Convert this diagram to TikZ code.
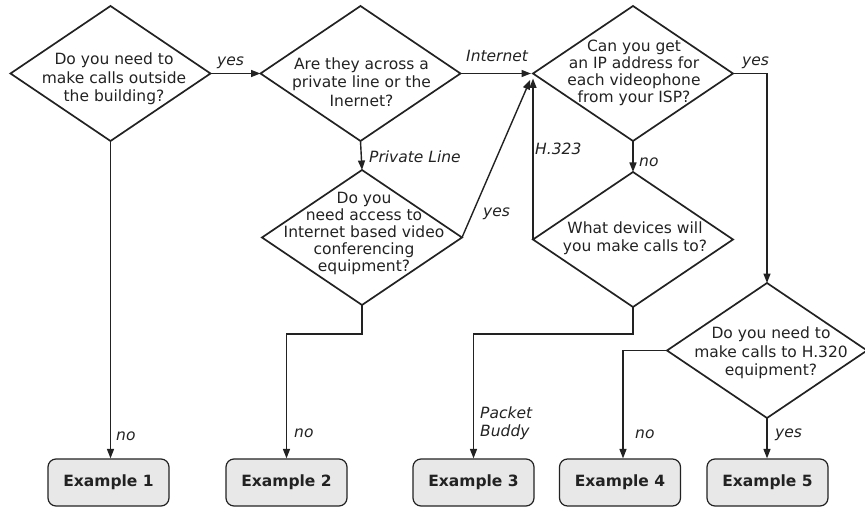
\documentclass[tikz,border=0pt]{standalone}
\usepackage{fontspec}
\setmainfont{DejaVu Sans}
\usetikzlibrary{shapes.geometric,arrows.meta}
\definecolor{ink}{HTML}{222222}
\definecolor{boxfill}{HTML}{E8E8E8}
\tikzset{
  dia/.style={draw=ink, line width=1.7pt, shape=diamond, minimum width=200pt, minimum height=135pt, inner sep=0pt, outer sep=0pt},
  dtext/.style={align=center, font=\fontsize{15.5}{18.5}\selectfont, inner sep=0pt, text=ink},
  dtextb/.style={dtext, font=\fontsize{15.5}{17}\selectfont},
  exbox/.style={draw=ink, fill=boxfill, rounded corners=8pt, line width=1.2pt, minimum width=121pt, minimum height=47pt, font=\fontsize{15.5}{18}\selectfont\bfseries, inner sep=0pt, text=ink},
  arr/.style={draw=ink, line width=1.4pt, -{Triangle[length=9.5pt,width=7pt]}},
  lbl/.style={font=\fontsize{15.5}{18}\selectfont\itshape, inner sep=0pt, anchor=base west, text=ink},
}
\begin{document}
\begin{tikzpicture}[x=1pt,y=-1pt]
\useasboundingbox (0,0) rectangle (865,508);
% diamonds
\node[dia] (D1) at (110.5,73.5) {};
\node[dia] (D2) at (360.5,73.5) {};
\node[dia] (D3) at (633,73.5) {};
\node[dia] (D4) at (362,237.5) {};
\node[dia] (D5) at (633,239.5) {};
\node[dia] (D6) at (767,350.5) {};
% diamond texts
\node[dtext] (T1) at (114,79) {Do you need to\\make calls outside\\the building?};
\node[dtext] (T2) at (361.5,82) {Are they across a\\private line or the\\Inernet?};
\node[dtextb] (T3) at (634,73) {Can you get\\an IP address for\\each videophone\\from your ISP?};
\node[dtextb] (T4) at (364,233) {Do you\\need access to\\Internet based video\\conferencing\\equipment?};
\node[dtext] (T5) at (635,238) {What devices will\\you make calls to?};
\node[dtext] (T6) at (771,353) {Do you need to\\make calls to H.320\\equipment?};
% example boxes
\node[exbox] (E1) at (108.5,482.5) {Example 1};
\node[exbox] (E2) at (286.5,482.5) {Example 2};
\node[exbox] (E3) at (473.5,482.5) {Example 3};
\node[exbox] (E4) at (620,482.5) {Example 4};
\node[exbox] (E5) at (767.5,482.5) {Example 5};
\coordinate (elb) at (0,334);
% connectors
\draw[arr] (D1.east) -- (D2.west);
\draw[arr, shorten >=2pt] (D2.east) -- (D3.west);
\draw[arr] (D2.south) -- (D4.north);
\draw[arr, shorten >=7pt] (D4.east) -- (D3.west);
\draw[arr] (D5.west) -- ([yshift=-5pt]D3.west);
\draw[arr] (D3.south) -- (D5.north);
\draw[arr] (D3.east) -| (D6.north);
\draw[arr] (D1.south) -- (D1.south |- E1.north);
\draw[arr] (D4.south) -- (D4.south |- elb) -| (E2.north);
\draw[arr] (D5.south) -- (D5.south |- elb) -| (E3.north);
\draw[arr] (D6.west) -| ([xshift=3pt]E4.north);
\draw[arr] (D6.south) -- (D6.south |- E5.north);
% labels
\node[lbl] (L1) at (217,66) {yes};
\node[lbl] (L2) at (466,62) {Internet};
\node[lbl] (L3) at (369,163) {Private Line};
\node[lbl] (L4) at (483,216) {yes};
\node[lbl] (L5) at (535,155) {H.323};
\node[lbl] (L6) at (639,167) {no};
\node[lbl] (L7) at (742,66) {yes};
\node[lbl] (L8) at (116,440) {no};
\node[lbl] (L9) at (294,437) {no};
\node[lbl] (L10) at (480,418) {Packet};
\node[lbl] (L11) at (480,436) {Buddy};
\node[lbl] (L12) at (635,438) {no};
\node[lbl] (L13) at (775,437) {yes};
\end{tikzpicture}
\end{document}
